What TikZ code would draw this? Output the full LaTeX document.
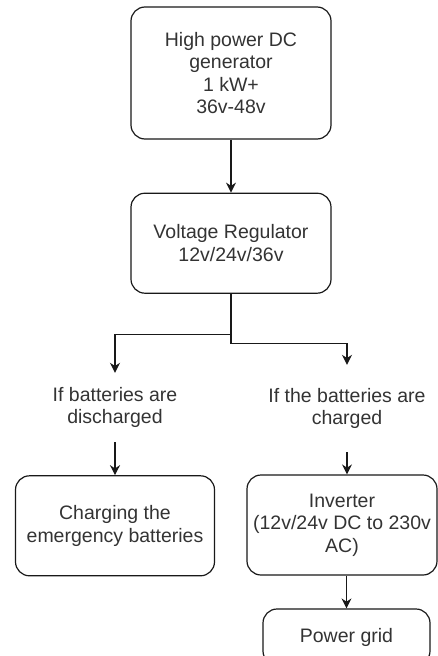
\documentclass[tikz,border=0pt]{standalone}
\usepackage{fontspec}
\setmainfont{Liberation Sans}
\usetikzlibrary{arrows.meta,positioning}

\begin{document}
\begin{tikzpicture}[
    x=1pt, y=1pt,
    node distance=33pt,
    box/.style={
        draw=black!90,
        line width=1.2pt,
        rounded corners=14pt,
        inner sep=2pt,
        align=center,
        text=black!80,
        font=\fontsize{19.5}{22.5}\selectfont
    },
    cond/.style={
        inner sep=0pt,
        align=center,
        text=black!80,
        font=\fontsize{19.5}{22.5}\selectfont
    },
    arrow/.style={-{Stealth[length=10pt, width=10pt]}, line width=1.2pt, draw=black!90}
]
\useasboundingbox (0,0) rectangle (438,-656);

\node[box, minimum width=200pt, minimum height=132pt] (gen) at (231,-73) {High power DC\\generator\\1 kW+\\36v-48v};
\node[box, minimum width=200pt, minimum height=100pt, below=53pt of gen] (reg) {Voltage Regulator\\12v/24v/36v};

\node[cond, minimum height=69pt] (dis) at (115,-407.5) {If batteries are\\discharged};
\node[cond, minimum height=87pt] (chg) at (347,-408.5) {If the batteries are\\charged};

\node[box, minimum width=199pt, minimum height=100pt, below=33pt of dis] (charge) {Charging the\\emergency batteries};
\node[box, minimum width=190pt, minimum height=100pt] (inv) at (342,-525) {Inverter\\(12v/24v DC to 230v\\AC)};
\node[box, minimum width=167pt, minimum height=56pt] (grid) at (346.5,-637) {Power grid};

\draw[arrow] (gen) -- (reg);
\draw[arrow] (reg.south) -- ++(0,-41pt) -| (dis.north);
\draw[arrow] (reg.south) -- ++(0,-50pt) -| (chg.north);
\draw[arrow] (dis.south) -- (charge.north);
\draw[arrow] (chg.south) -- (chg.south |- inv.north);
\draw[arrow] (grid.north |- inv.south) -- (grid.north);
\end{tikzpicture}
\end{document}
